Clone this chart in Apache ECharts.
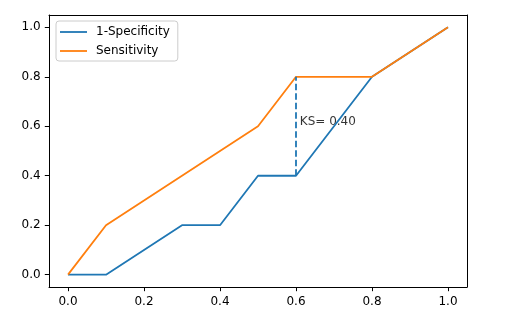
<!DOCTYPE html>
<html><head><meta charset="utf-8">
<script src="https://cdn.jsdelivr.net/npm/echarts@6/dist/echarts.min.js"></script>
<style>html,body{margin:0;padding:0;background:#fff}#c{width:525px;height:321px}</style>
</head><body><div id="c"></div>
<script>
var fprX = [0, 0.1, 0.3, 0.4, 0.5, 0.6, 0.8, 1.0];
var fprY = [0, 0, 0.2, 0.2, 0.4, 0.4, 0.8, 1.0];
var sensX = [0, 0.1, 0.5, 0.6, 0.8, 1.0];
var sensY = [0, 0.2, 0.6, 0.8, 0.8, 1.0];
var ksX = 0.6, ksLow = 0.4, ksHigh = 0.8;
var ksText = 'KS= 0.40';
var xTicks = [0, 0.2, 0.4, 0.6, 0.8, 1.0];
var yTicks = [0, 0.2, 0.4, 0.6, 0.8, 1.0];

function pairs(xs, ys){ return xs.map(function(x,i){return [x, ys[i]];}); }
var font = 'DejaVu Sans';
var chart = echarts.init(document.getElementById('c'));
function axis(pos, ticks, show){
  return {
    type:'value', position: pos, min:-0.05, max:1.05,
    splitLine:{show:false},
    axisLine:{show:true, onZero:false, lineStyle:{color:'#000', width:1}},
    axisTick:{show:show, length:4.2, inside:false, customValues: ticks, lineStyle:{color:'#000', width:1}},
    axisLabel:{show:show, customValues: ticks, margin:8.4, color:'#000', fontFamily:font, fontSize:12,
      formatter:function(v){return v.toFixed(1);}}
  };
}
var xa = axis('bottom', xTicks, true), xb = axis('top', xTicks, false);
var ya = axis('left', yTicks, true), yb = axis('right', yTicks, false);
chart.setOption({
  animation:false,
  grid:{left:49, right:58, top:15, bottom:34, containLabel:false},
  xAxis:[xa, xb],
  yAxis:[ya, yb],
  legend:{
    data:['1-Specificity','Sensitivity'], orient:'vertical', left:56, top:21,
    padding:[4,8,3,4], itemGap:5, itemWidth:27, itemHeight:1.8, icon:'rect',
    borderColor:'#cccccc', borderWidth:1, borderRadius:3, backgroundColor:'rgba(255,255,255,0.8)',
    textStyle:{fontFamily:font, fontSize:12, color:'#000', lineHeight:14, padding:[0,0,0,4]}
  },
  series:[
    {name:'1-Specificity', type:'line', data:pairs(fprX, fprY), showSymbol:false, symbol:'none',
      color:'#1f77b4', lineStyle:{color:'#1f77b4', width:1.8}},
    {name:'Sensitivity', type:'line', data:pairs(sensX, sensY), showSymbol:false, symbol:'none',
      color:'#ff7f0e', lineStyle:{color:'#ff7f0e', width:1.8}},
    {name:'KS', type:'line', data:[[ksX, ksLow],[ksX, ksHigh]], showSymbol:false, symbol:'none',
      lineStyle:{color:'#1f77b4', width:1.8, type:[6.6,2.9]}},
    {name:'KSlabel', type:'scatter', data:[[ksX + 0.01, (ksLow + ksHigh)/2]], symbolSize:0,
      label:{show:true, formatter:ksText, position:'right', distance:0, offset:[0,-4.5],
        fontFamily:font, fontSize:12, color:'#000'}}
  ]
});
</script></body></html>
